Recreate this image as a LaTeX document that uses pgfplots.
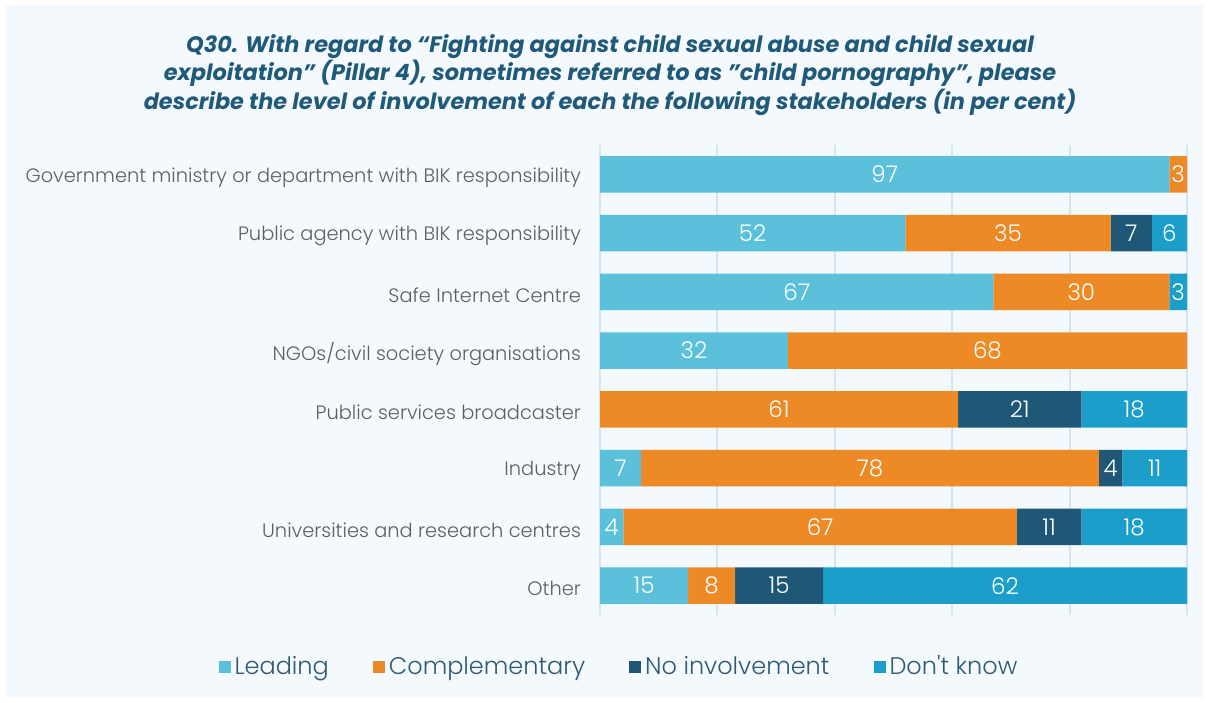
\documentclass[border=0pt]{standalone}
\usepackage{pgfplots}
\pgfplotsset{compat=1.18}
\usepackage{fontspec}
\setmainfont{Poppins}
\newfontfamily\plight{Poppins Light}
\definecolor{cLead}{HTML}{5BC0DA}
\definecolor{cComp}{HTML}{EE8A25}
\definecolor{cNo}{HTML}{1F5876}
\definecolor{cDK}{HTML}{1B9FCA}
\definecolor{cTitle}{HTML}{1F5A7A}
\definecolor{cTick}{HTML}{5F5F5F}
\definecolor{cLeg}{HTML}{2F5A70}
\definecolor{cGrid}{HTML}{D5E5EF}
\definecolor{cBg}{HTML}{F4F9FD}
\begin{document}
\begin{tikzpicture}
\fill[white] (0,0) rectangle (604pt,351pt);
\fill[cBg] (3pt,2pt) rectangle (601.5pt,348.5pt);
\node[text=cTitle, font=\bfseries\itshape\fontsize{11.2}{14.3}\selectfont, align=center] at (305pt,313.5pt)
 {Q30. With regard to “Fighting against child sexual abuse and child sexual\\
  exploitation” (Pillar 4), sometimes referred to as \char"22 child pornography\char"22, please\\
  describe the level of involvement of each the following stakeholders (in per cent)};
\begin{axis}[
  at={(300pt,43.5pt)}, anchor=south west,
  scale only axis, width=293.5pt, height=235pt,
  xbar stacked, bar width=0.62,
  xmin=0, xmax=100, ymin=-0.5, ymax=7.5, y dir=reverse,
  clip=false,
  xtick={0,20,...,100}, xticklabels={},
  xmajorgrids, grid style={draw=cGrid, line width=1pt},
  ytick={0,...,7},
  yticklabels={Government ministry or department with BIK responsibility\hspace{2pt},
    Public agency with BIK responsibility,
    Safe Internet Centre,
    NGOs/civil society organisations,
    Public services broadcaster\hspace{2pt},
    Industry,
    Universities and research centres,
    Other},
  major tick length=0, axis line style={draw=none},
  yticklabel style={font=\plight\fontsize{9.7}{11}\selectfont, text=cTick, xshift=-6pt, yshift=-1.5pt},
  point meta=explicit symbolic,
  nodes near coords={\pgfplotspointmeta},
  nodes near coords align=center,
  every node near coord/.append style={anchor=center, font=\plight\fontsize{11.5}{12}\selectfont, text=white},
  legend image code/.code={\fill[#1] (0pt,-3pt) rectangle (6pt,3pt);},
  legend columns=4,
  legend style={at={(0.034,-0.11)}, anchor=center, draw=none, fill=none,
     font=\plight\fontsize{12}{13}\selectfont, text=cLeg,
     /tikz/every even column/.append style={column sep=20pt}},
]
\addplot[fill=cLead, draw=none] coordinates {(97,0)[97] (52,1)[52] (67,2)[67] (32,3)[32] (0,4)[\relax] (7,5)[7] (4,6)[4] (15,7)[15]};
\addlegendentry{Leading}
\addplot[fill=cComp, draw=none] coordinates {(3,0)[3] (35,1)[35] (30,2)[30] (68,3)[68] (61,4)[61] (78,5)[78] (67,6)[67] (8,7)[8]};
\addlegendentry{Complementary}
\addplot[fill=cNo, draw=none] coordinates {(0,0)[\relax] (7,1)[7] (0,2)[\relax] (0,3)[\relax] (21,4)[21] (4,5)[4] (11,6)[11] (15,7)[15]};
\addlegendentry{No involvement}
\addplot[fill=cDK, draw=none] coordinates {(0,0)[\relax] (6,1)[6] (3,2)[3] (0,3)[\relax] (18,4)[18] (11,5)[11] (18,6)[18] (62,7)[62]};
\addlegendentry{Don\char"27 t know}
\end{axis}
\end{tikzpicture}
\end{document}
